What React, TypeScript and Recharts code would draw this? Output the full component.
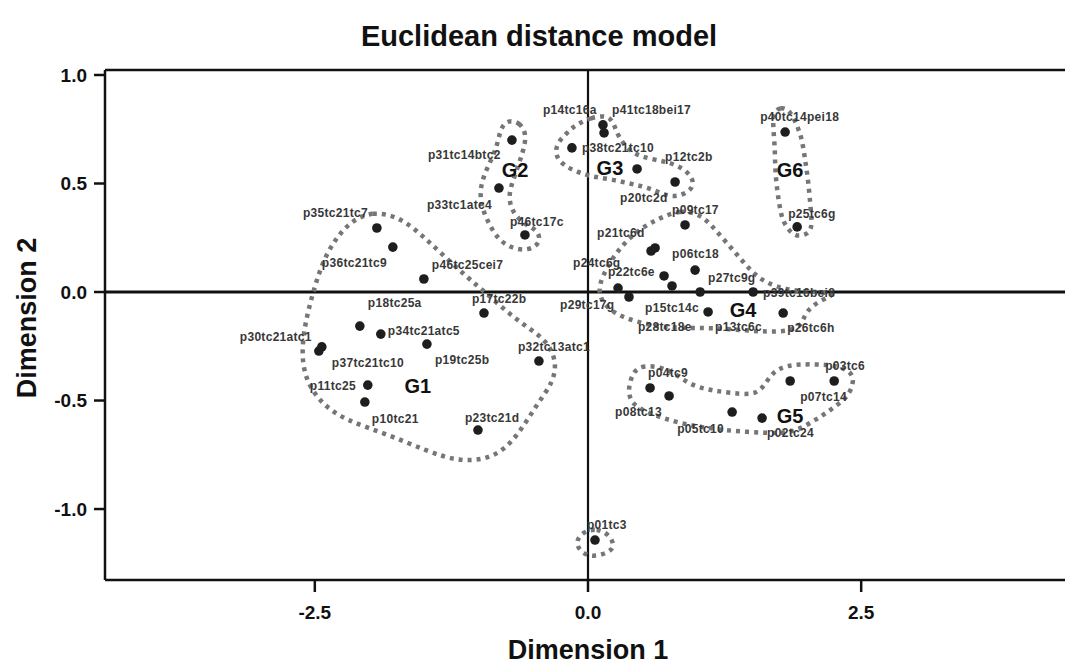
import React from 'react';
import { ScatterChart, Scatter, XAxis, YAxis, ReferenceLine } from 'recharts';

// ---------- data ----------
const pointNames = [
  'p35tc21tc7', 'p36tc21tc9', 'p46tc25cei7', 'p18tc25a', 'p34tc21atc5', 'p19tc25b', 'p30tc21atc1',
  'p37tc21tc10', 'p17tc22b', 'p32tc13atc1', 'p11tc25', 'p10tc21', 'p23tc21d',
  'p31tc14btc2', 'p33tc1atc4', 'p46tc17c',
  'p14tc16a', 'p41tc18bei17', 'p38tc21tc10', 'p20tc2d', 'p12tc2b',
  'p09tc17', 'p21tc6d', 'p24tc6g', 'p06tc18', 'p22tc6e', 'p27tc9g', 'p29tc17g', 'p28tc18e',
  'p13tc6c', 'p39tc16bei8', 'p15tc14c', 'p26tc6h',
  'p04tc9', 'p08tc13', 'p05tc10', 'p02tc24', 'p07tc14', 'p03tc6',
  'p40tc14pei18', 'p25tc6g', 'p01tc3',
];
const dim1 = [
  -1.932, -1.786, -1.502, -2.088, -1.896, -1.474, -2.436,
  -2.463, -0.952, -0.449, -2.015, -2.042, -1.007,
  -0.696, -0.815, -0.577,
  0.137, 0.147, -0.147, 0.449, 0.797,
  0.888, 0.614, 0.577, 0.98, 0.696, 0.769, 0.275, 0.375,
  1.026, 1.511, 1.099, 1.786,
  0.568, 0.742, 1.319, 1.593, 1.85, 2.253,
  1.804, 1.914, 0.064,
];
const dim2 = [
  0.295, 0.207, 0.06, -0.157, -0.194, -0.24, -0.253,
  -0.272, -0.097, -0.318, -0.429, -0.507, -0.636,
  0.7, 0.479, 0.263,
  0.77, 0.733, 0.664, 0.567, 0.507,
  0.309, 0.203, 0.189, 0.101, 0.074, 0.028, 0.018, -0.023,
  0.0, 0.0, -0.092, -0.097,
  -0.442, -0.479, -0.553, -0.581, -0.41, -0.41,
  0.737, 0.3, -1.143,
];

const groupNames = ['G1', 'G2', 'G3', 'G4', 'G5', 'G6'];
const groupDim1 = [-1.557, -0.668, 0.201, 1.419, 1.85, 1.85];
const groupDim2 = [-0.433, 0.562, 0.571, -0.083, -0.571, 0.562];

const xTicks = [-2.5, 0, 2.5];
const yTicks = [-1, -0.5, 0, 0.5, 1];

// group outlines (dimension coordinates)
const outlineG1: [number, number][] = [
  [-2.179, 0.323], [-1.978, 0.373], [-1.722, 0.346], [-1.511, 0.258], [-1.337, 0.175], [-1.108, 0.069],
  [-0.943, 0.0], [-0.742, -0.092], [-0.559, -0.161], [-0.375, -0.225], [-0.284, -0.323], [-0.321, -0.419],
  [-0.467, -0.516], [-0.696, -0.705], [-0.925, -0.774], [-1.2, -0.779], [-1.474, -0.733], [-1.841, -0.654],
  [-2.207, -0.594], [-2.454, -0.512], [-2.61, -0.382], [-2.619, -0.221], [-2.546, -0.051], [-2.436, 0.134],
  [-2.317, 0.24],
];
const outlineG2: [number, number][] = [
  [-0.742, 0.793], [-0.623, 0.783], [-0.559, 0.724], [-0.595, 0.645], [-0.668, 0.539], [-0.733, 0.447],
  [-0.696, 0.369], [-0.577, 0.309], [-0.458, 0.286], [-0.43, 0.226], [-0.549, 0.189], [-0.714, 0.203],
  [-0.833, 0.249], [-0.916, 0.323], [-0.98, 0.401], [-0.989, 0.484], [-0.925, 0.571], [-0.833, 0.664],
  [-0.806, 0.747],
];
const outlineG3: [number, number][] = [
  [-0.073, 0.779], [0.018, 0.802], [0.174, 0.816], [0.238, 0.779], [0.266, 0.724], [0.385, 0.641],
  [0.568, 0.613], [0.733, 0.599], [0.87, 0.571], [0.962, 0.525], [0.962, 0.479], [0.87, 0.447],
  [0.751, 0.438], [0.632, 0.465], [0.495, 0.488], [0.357, 0.502], [0.201, 0.521], [0.046, 0.53],
  [-0.101, 0.553], [-0.229, 0.585], [-0.302, 0.631], [-0.284, 0.687], [-0.192, 0.733], [-0.137, 0.76],
];
const outlineG4: [number, number][] = [
  [0.659, 0.341], [0.842, 0.378], [1.026, 0.359], [1.136, 0.304], [1.255, 0.235], [1.374, 0.166],
  [1.484, 0.101], [1.621, 0.041], [1.85, 0.005], [2.125, 0.0], [2.28, -0.009], [2.125, -0.037],
  [1.987, -0.092], [1.96, -0.152], [1.85, -0.18], [1.639, -0.184], [1.392, -0.175], [1.145, -0.166],
  [0.907, -0.166], [0.659, -0.161], [0.449, -0.138], [0.266, -0.106], [0.137, -0.055], [0.092, 0.009],
  [0.137, 0.078], [0.229, 0.161], [0.357, 0.24], [0.504, 0.3],
];
const outlineG5: [number, number][] = [
  [0.412, -0.373], [0.476, -0.341], [0.632, -0.341], [0.797, -0.373], [0.934, -0.429], [1.117, -0.452],
  [1.3, -0.465], [1.511, -0.475], [1.603, -0.442], [1.685, -0.369], [1.822, -0.336], [2.033, -0.332],
  [2.28, -0.336], [2.427, -0.373], [2.427, -0.429], [2.372, -0.484], [2.28, -0.521], [2.152, -0.567],
  [2.005, -0.613], [1.85, -0.65], [1.667, -0.65], [1.456, -0.645], [1.236, -0.636], [1.026, -0.622],
  [0.842, -0.604], [0.687, -0.581], [0.54, -0.553], [0.412, -0.521], [0.366, -0.465], [0.385, -0.415],
];
const outlineG6: [number, number][] = [
  [1.694, 0.825], [1.758, 0.853], [1.85, 0.839], [1.923, 0.756], [1.96, 0.7], [1.987, 0.608],
  [2.015, 0.516], [2.033, 0.41], [2.051, 0.318], [2.033, 0.272], [1.923, 0.253], [1.85, 0.276],
  [1.786, 0.323], [1.758, 0.378], [1.731, 0.47], [1.712, 0.562], [1.712, 0.654], [1.694, 0.76],
];
const outlineP01: [number, number][] = [
  [-0.055, -1.106], [0.082, -1.088], [0.201, -1.12], [0.247, -1.175], [0.174, -1.203], [0.046, -1.221],
  [-0.055, -1.203], [-0.119, -1.157],
];

// ---------- styling (label nudges in pixels) ----------
const labelNudge: [number, number][] = [
  [-74, -15], [-71, 16], [8, -14], [8, -23], [7, -3], [8, 16], [-82, -10],
  [13, 12], [-12, -14], [-21, -14], [-58, 1], [7, 17], [-13, -12],
  [-84, 15], [-72, 17], [-15, -13],
  [-60, -15], [8, -23], [10, 0], [-17, 29], [-10, -25],
  [-13, -15], [-58, -15], [-78, 12], [-23, -16], [-56, -4], [36, -8], [-58, 17], [9, 30],
  [15, 35], [10, 1], [-63, -4], [4, 15],
  [-2, -15], [-54, 16], [-55, 17], [5, 15], [10, 16], [-9, -15],
  [-25, -15], [-9, -13], [-8, -15],
];

const points = pointNames.map((name, i) => ({ name, x: dim1[i], y: dim2[i], idx: i }));
const groups = groupNames.map((name, i) => ({ name, x: groupDim1[i], y: groupDim2[i] }));
const toXY = (arr: [number, number][]) => arr.map(([x, y]) => ({ x, y }));
const outlines = [outlineG1, outlineG2, outlineG3, outlineG4, outlineG5, outlineG6, outlineP01].map(toXY);

const FONT = '"Liberation Sans", Arial, Helvetica, sans-serif';

const PointShape = (props: any) => {
  const { cx, cy, payload } = props;
  const nudge = labelNudge[payload.idx] || [6, -12];
  return (
    <g>
      <circle cx={cx} cy={cy} r={4.8} fill="#1e1e1e" />
      <text
        x={cx + nudge[0]}
        y={cy + nudge[1]}
        dominantBaseline="central"
        fontFamily={FONT}
        fontSize={12}
        fontWeight="bold"
        fill="#383838"
        letterSpacing={0.3}
      >
        {payload.name}
      </text>
    </g>
  );
};

const GroupShape = (props: any) => {
  const { cx, cy, payload } = props;
  return (
    <text
      x={cx}
      y={cy}
      textAnchor="middle"
      dominantBaseline="central"
      fontFamily={FONT}
      fontSize={20}
      fontWeight="bold"
      fill="#111"
    >
      {payload.name}
    </text>
  );
};

const NoShape = () => <g />;

const tickStyle = { fontSize: 19, fontWeight: 'bold' as const, fill: '#111', fontFamily: FONT };

export default function App() {
  return (
    <div
      style={{
        position: 'absolute',
        left: 0,
        top: 0,
        width: 1065,
        height: 668,
        overflow: 'hidden',
        background: '#fff',
        fontFamily: FONT,
      }}
    >
      <ScatterChart width={1080} height={668} margin={{ top: 70, right: 9, bottom: 0, left: 0 }}>
        <XAxis
          type="number"
          dataKey="x"
          domain={[-4.42, 4.42]}
          ticks={xTicks}
          allowDataOverflow
          tickFormatter={(v: number) => v.toFixed(1)}
          height={88}
          tickSize={12}
          tickMargin={14}
          axisLine={{ stroke: '#111', strokeWidth: 2.5 }}
          tickLine={{ stroke: '#111', strokeWidth: 2.5 }}
          tick={tickStyle}
        />
        <YAxis
          type="number"
          dataKey="y"
          domain={[-1.327, 1.023]}
          ticks={yTicks}
          allowDataOverflow
          tickFormatter={(v: number) => v.toFixed(1)}
          width={105}
          tickSize={11}
          tickMargin={7}
          axisLine={{ stroke: '#111', strokeWidth: 2.5 }}
          tickLine={{ stroke: '#111', strokeWidth: 2.5 }}
          tick={tickStyle}
        />
        <ReferenceLine y={1.023} stroke="#111" strokeWidth={2.5} />
        <ReferenceLine x={0} stroke="#111" strokeWidth={2.2} />
        <ReferenceLine y={0} stroke="#111" strokeWidth={3} />
        {outlines.map((o, i) => (
          <Scatter
            key={'o' + i}
            data={o}
            line={{ stroke: '#767676', strokeWidth: 4.5, strokeDasharray: '4 5', fill: 'none' }}
            lineType="joint"
            lineJointType="basisClosed"
            shape={NoShape}
            isAnimationActive={false}
          />
        ))}
        <Scatter data={points} shape={PointShape} isAnimationActive={false} />
        <Scatter data={groups} shape={GroupShape} isAnimationActive={false} />
      </ScatterChart>
      <div
        style={{
          position: 'absolute',
          left: 539,
          top: 36,
          transform: 'translate(-50%, -50%)',
          fontSize: 29,
          fontWeight: 'bold',
          color: '#111',
          whiteSpace: 'nowrap',
        }}
      >
        Euclidean distance model
      </div>
      <div
        style={{
          position: 'absolute',
          left: 588,
          top: 650,
          transform: 'translate(-50%, -50%)',
          fontSize: 27,
          fontWeight: 'bold',
          color: '#111',
          whiteSpace: 'nowrap',
        }}
      >
        Dimension 1
      </div>
      <div
        style={{
          position: 'absolute',
          left: 27,
          top: 318,
          transform: 'translate(-50%, -50%) rotate(-90deg)',
          fontSize: 27,
          fontWeight: 'bold',
          color: '#111',
          whiteSpace: 'nowrap',
        }}
      >
        Dimension 2
      </div>
    </div>
  );
}
